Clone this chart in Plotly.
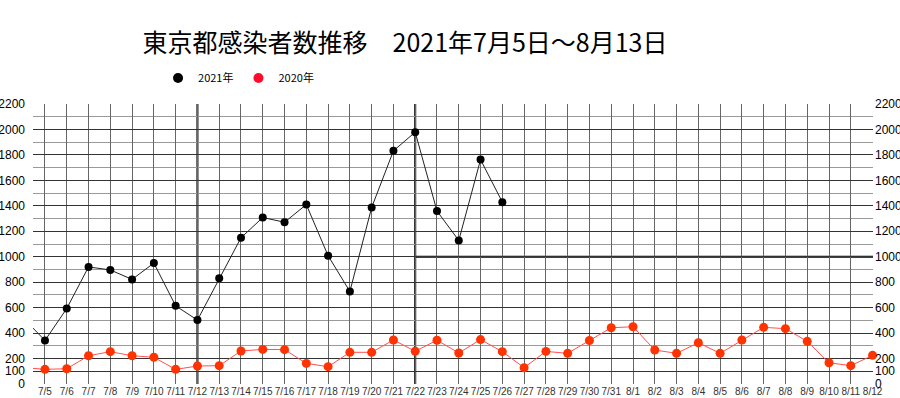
import plotly.graph_objects as go

# --- data ---
dates = ["7/4", "7/5", "7/6", "7/7", "7/8", "7/9", "7/10", "7/11", "7/12", "7/13", "7/14",
         "7/15", "7/16", "7/17", "7/18", "7/19", "7/20", "7/21", "7/22", "7/23", "7/24",
         "7/25", "7/26", "7/27", "7/28", "7/29", "7/30", "7/31", "8/1", "8/2", "8/3",
         "8/4", "8/5", "8/6", "8/7", "8/8", "8/9", "8/10", "8/11", "8/12"]

cases_2021 = [518, 342, 593, 920, 896, 822, 950, 614, 502, 830, 1149,
              1308, 1271, 1410, 1008, 727, 1387, 1832, 1979, 1359, 1128,
              1763, 1429]

cases_2020 = [130, 115, 120, 222, 254, 222, 210, 115, 141, 144, 259,
              272, 270, 162, 136, 249, 249, 346, 257, 344, 244,
              349, 254, 128, 256, 241, 342, 442, 450, 267, 241,
              324, 241, 346, 445, 435, 335, 167, 144, 225]

y_ticks = [0, 100, 200, 400, 600, 800, 1000, 1200, 1400, 1600, 1800, 2000, 2200]
title_text = "東京都感染者数推移　2021年7月5日～8月13日"
legend_names = ["2021年", "2020年"]

BLACK = "#000000"
RED_MARK = "#ff3300"
RED_LINE = "#ff5050"
RED_LEG = "#ff0a2a"

fig = go.Figure()

# connecting lines (include lead-in day, clipped)
fig.add_trace(go.Scatter(x=dates[:len(cases_2020)], y=cases_2020, mode="lines",
                         line=dict(color=RED_LINE, width=1), showlegend=False,
                         hoverinfo="skip"))
fig.add_trace(go.Scatter(x=dates[:len(cases_2021)], y=cases_2021, mode="lines",
                         line=dict(color="#222222", width=1), showlegend=False,
                         hoverinfo="skip"))
# markers (from 7/5)
fig.add_trace(go.Scatter(x=dates[1:len(cases_2020)], y=cases_2020[1:], mode="markers",
                         marker=dict(color=RED_MARK, size=9), showlegend=False,
                         cliponaxis=False, name=legend_names[1]))
fig.add_trace(go.Scatter(x=dates[1:len(cases_2021)], y=cases_2021[1:], mode="markers",
                         marker=dict(color=BLACK, size=8), showlegend=False,
                         cliponaxis=False, name=legend_names[0]))

# legend entries
fig.add_trace(go.Scatter(x=[None], y=[None], mode="markers", name=legend_names[0],
                         marker=dict(color=BLACK, size=10), yaxis="y2"))
fig.add_trace(go.Scatter(x=[None], y=[None], mode="markers", name=legend_names[1],
                         marker=dict(color=RED_LEG, size=10), yaxis="y2"))

# emphasised grid lines
for d in ["7/12", "7/22"]:
    fig.add_shape(type="line", xref="x", yref="paper", x0=d, x1=d, y0=0, y1=1,
                  line=dict(color="#000000", width=2), layer="below")
fig.add_shape(type="line", xref="x", yref="y", x0="7/22", x1=39.02, y0=1000, y1=1000,
              line=dict(color="#000000", width=2), layer="below")

num_font = dict(family="Liberation Sans, Arial", size=12, color="#000000")

fig.update_layout(
    width=900, height=398,
    margin=dict(l=33, r=27, t=104, b=14, autoexpand=False),
    paper_bgcolor="white", plot_bgcolor="white",
    title=dict(text=title_text, x=0.45, xanchor="center", y=0.892, yanchor="middle",
               font=dict(family="Noto Sans CJK JP", size=25, color="#000000")),
    legend=dict(orientation="h", xref="container", yref="container",
                x=0.1756, xanchor="left", y=0.804, yanchor="middle",
                font=dict(family="Noto Sans CJK JP", size=11, color="#000000"),
                itemwidth=30, bgcolor="rgba(0,0,0,0)"),
    showlegend=True,
    xaxis=dict(type="category", categoryorder="array", categoryarray=dates,
               range=[0.45, 39.02], showgrid=True, gridcolor="#666666", gridwidth=1,
               tickfont=dict(family="Liberation Sans, Arial", size=10, color="#333333"),
               tickvals=dates[1:], ticktext=dates[1:], tickangle=0,
               zeroline=False, showline=False, automargin=False, ticks="",
               ticklabelstandoff=0),
    yaxis=dict(range=[0, 2200], tickmode="array", tickvals=y_ticks,
               showgrid=True, gridcolor="#333333", gridwidth=1,
               minor=dict(dtick=100, tick0=0, showgrid=True, gridcolor="#999999", gridwidth=1),
               tickfont=num_font, zeroline=False, showline=False, automargin=False,
               ticks="", ticklabelstandoff=7),
    yaxis2=dict(range=[0, 2200], overlaying="y", side="right", tickmode="array",
                tickvals=y_ticks, showgrid=False, tickfont=num_font, zeroline=False,
                showline=False, automargin=False, ticks="", ticklabelstandoff=1),
)

fig.write_html("out.html", config={"displayModeBar": False},
               post_script="document.body.style.margin='0';")
